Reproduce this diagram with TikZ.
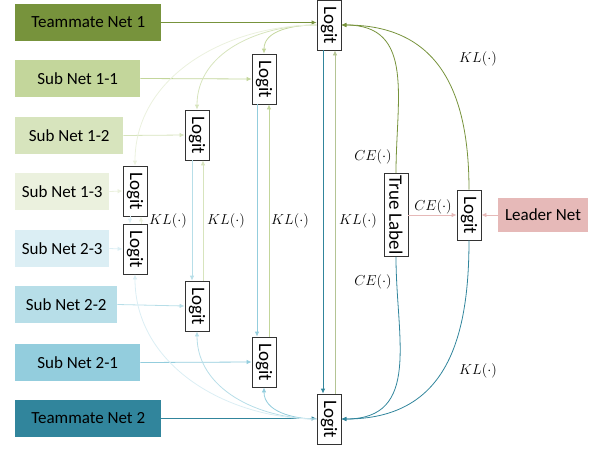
\documentclass[tikz,border=0pt]{standalone}
\usepackage{fontspec}
\setmainfont{Carlito}
\usepackage{xcolor}
\usepackage{tikz}
\usetikzlibrary{positioning, arrows.meta}
\definecolor{teamgreen}{HTML}{77933C}
\definecolor{subgreenA}{HTML}{C3D69B}
\definecolor{subgreenB}{HTML}{D7E4BD}
\definecolor{subgreenC}{HTML}{EBF1DE}
\definecolor{subblueC}{HTML}{DBEEF4}
\definecolor{subblueB}{HTML}{B7DEE8}
\definecolor{subblueA}{HTML}{93CDDD}
\definecolor{teamblue}{HTML}{31859C}
\definecolor{leaderred}{HTML}{E6B9B8}
\newcommand{\vlabel}[1]{\rotatebox{-90}{#1}}

\begin{document}
\begin{tikzpicture}[x=1pt, y=-1pt,
    net/.style={anchor=west, minimum height=37pt, inner sep=0pt,
                font=\fontsize{17}{20}\selectfont},
    logit/.style={draw=black!80, fill=white, line width=0.8pt, minimum width=24pt,
                  minimum height=50pt, inner sep=0pt, font=\fontsize{19}{22}\selectfont},
    link/.style={line width=0.8pt, -{Latex[length=5pt, width=4.5pt]}},
    lab/.style={font=\fontsize{15}{17}\selectfont}]
  \useasboundingbox (0,0) rectangle (598,448);

  % networks on the left
  \node[net, fill=teamgreen, minimum width=146pt] (team1) at (15,22.5) {Teammate Net 1};
  \node[net, fill=subgreenA, minimum width=125pt] (sub11) at (15,78.5) {Sub Net 1-1};
  \node[net, fill=subgreenB, minimum width=108pt] (sub12) at (15,135.5) {Sub Net 1-2};
  \node[net, fill=subgreenC, minimum width=94pt] (sub13) at (15,191.5) {Sub Net 1-3};
  \node[net, fill=subblueC, minimum width=94pt] (sub23) at (15,248.5) {Sub Net 2-3};
  \node[net, fill=subblueB, minimum width=102pt] (sub22) at (15,304.5) {Sub Net 2-2};
  \node[net, fill=subblueA, minimum width=125pt] (sub21) at (15,362.5) {Sub Net 2-1};
  \node[net, fill=teamblue, minimum width=146pt] (team2) at (15,418.5) {Teammate Net 2};

  % logits
  \node[logit] (lt1) at (329,25) {\vlabel{Logit}};
  \node[logit] (l11) at (264,79) {\vlabel{Logit}};
  \node[logit] (l12) at (197,135) {\vlabel{Logit}};
  \node[logit] (l13) at (135,191) {\vlabel{Logit}};
  \node[logit] (l23) at (135,249) {\vlabel{Logit}};
  \node[logit] (l22) at (197,306) {\vlabel{Logit}};
  \node[logit] (l21) at (264,362) {\vlabel{Logit}};
  \node[logit] (lt2) at (329,419) {\vlabel{Logit}};
  \node[logit, minimum height=83pt] (truelabel) at (396,215) {\vlabel{True Label}};
  \node[logit] (lleader) at (469,215) {\vlabel{Logit}};
  \node[anchor=center, fill=leaderred, minimum width=90pt, minimum height=34pt,
        inner sep=0pt, font=\fontsize{17}{20}\selectfont] (leader) at (543,215) {Leader Net};

  % net -> logit
  \draw[link, teamgreen] (team1.east) -- (lt1.west |- team1.east);
  \draw[link, subgreenA] (sub11.east) -- (l11.west);
  \draw[link, subgreenB] (sub12.east) -- (l12.west);
  \draw[link, subgreenC] (sub13.east) -- (l13.west);
  \draw[link, subblueC] (sub23.east) -- (l23.west);
  \draw[link, subblueB] (sub22.east) -- (l22.west);
  \draw[link, subblueA] (sub21.east) -- (l21.west);
  \draw[link, teamblue] (team2.east) -- (lt2.west |- team2.east);
  \draw[link, leaderred] (leader.west) -- (lleader.east);
  \draw[link, leaderred] (truelabel.east) -- (lleader.west);

  % teammates teach the sub nets
  \draw[link, subgreenA] (lt1.west) to[out=180, in=90] (l11.north);
  \draw[link, subgreenB] (lt1.west) to[out=180, in=90] (l12.north);
  \draw[link, subgreenC] (lt1.west) to[out=180, in=90] (l13.north);
  \draw[link, subblueA] (lt2.west) to[out=180, in=-90] (l21.south);
  \draw[link, subblueB] (lt2.west) to[out=180, in=-90] (l22.south);
  \draw[link, subblueC] (lt2.west) to[out=180, in=-90] (l23.south);

  % mutual learning between the two branches
  \draw[link, subblueC] ([xshift=-5pt]l13.south) -- ([xshift=-5pt]l23.north);
  \draw[link, subgreenC] ([xshift=6pt]l23.north) -- ([xshift=6pt]l13.south);
  \draw[link, subblueB] ([xshift=-5pt]l12.south) -- ([xshift=-5pt]l22.north);
  \draw[link, subgreenB] ([xshift=6pt]l22.north) -- ([xshift=6pt]l12.south);
  \draw[link, subblueA] ([xshift=-7pt]l11.south) -- ([xshift=-7pt]l21.north);
  \draw[link, subgreenA] ([xshift=5pt]l21.north) -- ([xshift=5pt]l11.south);
  \draw[link, teamblue] ([xshift=-6pt]lt1.south) -- ([xshift=-6pt]lt2.north);
  \draw[link, teamgreen!55] ([xshift=6pt]lt2.north) -- ([xshift=6pt]lt1.south);

  % supervision from the right
  \draw[link, teamgreen] (truelabel.north) to[out=90, in=0, looseness=1.2] (lt1.east);
  \draw[link, teamgreen] (lleader.north) to[out=90, in=0, looseness=1.2] (lt1.east);
  \draw[link, teamblue] (truelabel.south) to[out=-90, in=0, looseness=1.2] (lt2.east);
  \draw[link, teamblue] (lleader.south) to[out=-90, in=0, looseness=1.2] (lt2.east);

  % loss labels
  \node[lab] (kl1) at (168,221) {$KL(\cdot)$};
  \node[lab] (kl2) at (226,221) {$KL(\cdot)$};
  \node[lab] (kl3) at (290,221) {$KL(\cdot)$};
  \node[lab] (kl4) at (358,221) {$KL(\cdot)$};
  \node[lab] (ceup) at (373,157) {$CE(\cdot)$};
  \node[lab] (cedown) at (373,282) {$CE(\cdot)$};
  \node[lab] (celeader) at (433,207) {$CE(\cdot)$};
  \node[lab] (klup) at (478,59) {$KL(\cdot)$};
  \node[lab] (kldown) at (478,371) {$KL(\cdot)$};
\end{tikzpicture}
\end{document}
